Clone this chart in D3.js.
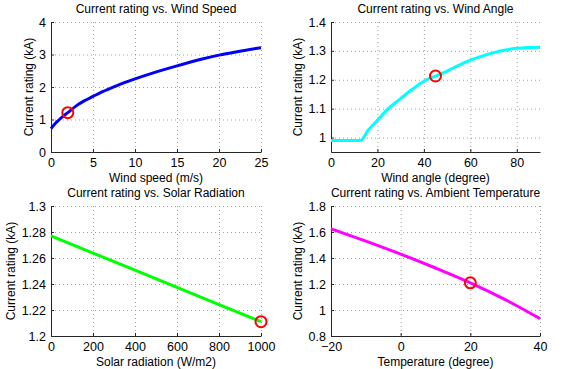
<html>
<head>
<meta charset="utf-8">
<script src="https://d3js.org/d3.v7.min.js"></script>
<style>
body { margin: 0; background: #fff; font-family: 'Liberation Sans', Arial, sans-serif; }
svg text { font-family: 'Liberation Sans', Arial, sans-serif; fill: #000; }
.grid line { stroke: #8a8a8a; stroke-dasharray: 1,3; stroke-width: 0.8; }
.axis path, .axis line { stroke: #262626; }
.axis text { font-size: 12.5px; }
</style>
</head>
<body>
<div id="chart"></div>
<script>

// wind speed panel
var windSpeed = [0, 0.5, 1, 1.5, 2, 3, 4, 5, 6, 8, 10, 12, 15, 18, 20, 22, 25];
var ratingSpeed = [0.72, 0.88, 1.0, 1.11, 1.21, 1.42, 1.58, 1.71, 1.84, 2.06, 2.25, 2.42, 2.65, 2.86, 2.98, 3.08, 3.21];

// wind angle panel
var windAngle = [0, 5, 10, 12.6, 16, 20, 24, 30, 35, 40, 45, 50, 55, 60, 65, 70, 75, 80, 85, 90];
var ratingAngle = [0.99, 0.99, 0.99, 0.99, 1.025, 1.06, 1.095, 1.135, 1.167, 1.195, 1.213, 1.23, 1.25, 1.268, 1.282, 1.294, 1.303, 1.309, 1.312, 1.313];

// solar radiation panel
var solar = [0, 200, 400, 600, 800, 1000];
var ratingSolar = [1.277, 1.2638, 1.2506, 1.2374, 1.2242, 1.211];

// ambient temperature panel
var temperature = [-20, -10, 0, 10, 20, 30, 40];
var ratingTemp = [1.625, 1.53, 1.43, 1.323, 1.209, 1.08, 0.934];

// operating points (red circles)
var opSpeed = [2, 1.21];
var opAngle = [45, 1.213];
var opSolar = [1000, 1.211];
var opTemp = [20, 1.209];

var panels = [
  {title: "Current rating vs. Wind Speed", xlabel: "Wind speed (m/s)",
   x: windSpeed, y: ratingSpeed, op: opSpeed, color: "#0000ff",
   xd: [0, 25], yd: [0, 4], xt: [0, 5, 10, 15, 20, 25], yt: [0, 1, 2, 3, 4],
   left: 51, right: 261, top: 22, bottom: 152, ylx: 29},
  {title: "Current rating vs. Wind Angle", xlabel: "Wind angle (degree)",
   x: windAngle, y: ratingAngle, op: opAngle, color: "#00ffff",
   xd: [0, 90], yd: [0.95, 1.4], xt: [0, 20, 40, 60, 80], yt: [1, 1.1, 1.2, 1.3, 1.4],
   left: 331, right: 540, top: 22, bottom: 152, ylx: 298},
  {title: "Current rating vs. Solar Radiation", xlabel: "Solar radiation (W/m2)",
   x: solar, y: ratingSolar, op: opSolar, color: "#00ff00",
   xd: [0, 1000], yd: [1.2, 1.3], xt: [0, 200, 400, 600, 800, 1000], yt: [1.2, 1.22, 1.24, 1.26, 1.28, 1.3],
   left: 51, right: 261, top: 206, bottom: 336, ylx: 11},
  {title: "Current rating vs. Ambient Temperature", xlabel: "Temperature (degree)",
   x: temperature, y: ratingTemp, op: opTemp, color: "#ff00ff",
   xd: [-20, 40], yd: [0.8, 1.8], xt: [-20, 0, 20, 40], yt: [0.8, 1, 1.2, 1.4, 1.6, 1.8],
   left: 331, right: 540, top: 206, bottom: 336, ylx: 298}
];

var svg = d3.select("#chart").append("svg").attr("width", 568).attr("height", 369);

panels.forEach(function(p) {
  var xs = d3.scaleLinear().domain(p.xd).range([p.left, p.right]);
  var ys = d3.scaleLinear().domain(p.yd).range([p.bottom, p.top]);
  var g = svg.append("g");

  // dotted grid
  var grid = g.append("g").attr("class", "grid");
  grid.selectAll(".gx").data(p.xt).enter().append("line")
    .attr("x1", function(d) { return xs(d) + 0.5; }).attr("x2", function(d) { return xs(d) + 0.5; })
    .attr("y1", p.top).attr("y2", p.bottom);
  grid.selectAll(".gy").data(p.yt).enter().append("line")
    .attr("y1", function(d) { return ys(d) + 0.5; }).attr("y2", function(d) { return ys(d) + 0.5; })
    .attr("x1", p.left).attr("x2", p.right);

  // axes, ticks pointing inward like matlab
  g.append("g").attr("class", "axis")
    .attr("transform", "translate(0," + p.bottom + ")")
    .call(d3.axisBottom(xs).tickValues(p.xt).tickSizeInner(-3).tickSizeOuter(0).tickPadding(6).tickFormat(d3.format("")))
    .call(function(a) { a.selectAll("text").attr("dy", "0.71em"); });
  g.append("g").attr("class", "axis")
    .attr("transform", "translate(" + p.left + ",0)")
    .call(d3.axisLeft(ys).tickValues(p.yt).tickSizeInner(-3).tickSizeOuter(0).tickPadding(5).tickFormat(d3.format("")));
  g.selectAll(".axis .domain").attr("stroke-width", 1);

  // curve
  var line = d3.line()
    .x(function(d, i) { return xs(p.x[i]); })
    .y(function(d) { return ys(d); })
    .curve(d3.curveMonotoneX);
  g.append("path").datum(p.y)
    .attr("d", line)
    .attr("fill", "none")
    .attr("stroke", p.color)
    .attr("stroke-width", 3);

  // operating point
  g.append("circle")
    .attr("cx", xs(p.op[0])).attr("cy", ys(p.op[1]))
    .attr("r", 5.5)
    .attr("fill", "none")
    .attr("stroke", "#ff0000")
    .attr("stroke-width", 2);

  // labels
  g.append("text")
    .attr("x", (p.left + p.right) / 2).attr("y", p.top - 9)
    .attr("text-anchor", "middle").style("font-size", "12px")
    .text(p.title);
  g.append("text")
    .attr("x", (p.left + p.right) / 2).attr("y", p.bottom + 29.5)
    .attr("text-anchor", "middle").style("font-size", "12px")
    .text(p.xlabel);
  g.append("text")
    .attr("transform", "translate(" + (p.ylx + 4) + "," + ((p.top + p.bottom) / 2) + ") rotate(-90)")
    .attr("text-anchor", "middle").style("font-size", "12px")
    .text("Current rating (kA)");
});

</script>
</body>
</html>
